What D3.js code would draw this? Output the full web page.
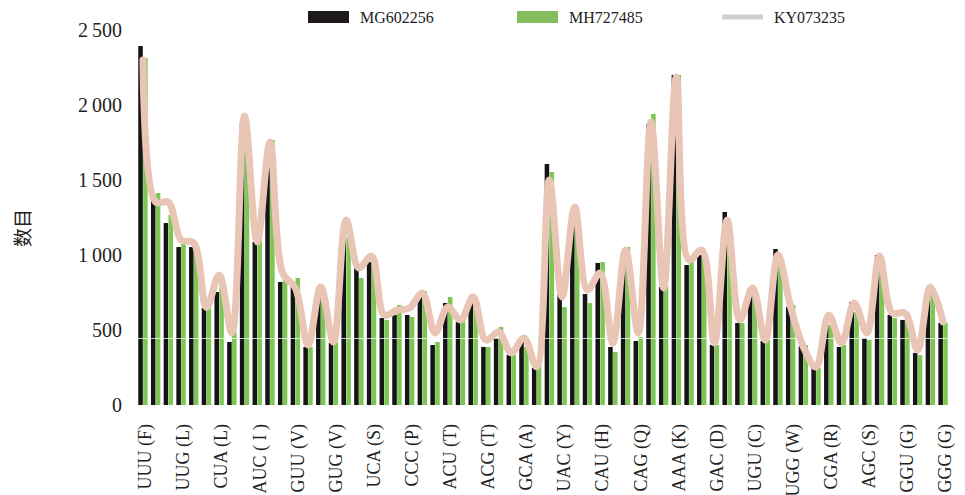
<!DOCTYPE html>
<html>
<head>
<meta charset="utf-8">
<script src="https://cdn.jsdelivr.net/npm/d3@7"></script>
<style>
  body { margin: 0; background: #fff; }
  svg { display: block; }
</style>
</head>
<body>
<div id="chart"></div>
<script>
// 64 codons, standard table order
var codons = ["UUU","UUC","UUA","UUG","CUU","CUC","CUA","CUG","AUU","AUC","AUA","AUG","GUU","GUC","GUA","GUG",
              "UCU","UCC","UCA","UCG","CCU","CCC","CCA","CCG","ACU","ACC","ACA","ACG","GCU","GCC","GCA","GCG",
              "UAU","UAC","UAA","UAG","CAU","CAC","CAA","CAG","AAU","AAC","AAA","AAG","GAU","GAC","GAA","GAG",
              "UGU","UGC","UGA","UGG","CGU","CGC","CGA","CGG","AGU","AGC","AGA","AGG","GGU","GGC","GGA","GGG"];

// every third codon gets a label
var tickLabels = ["UUU (F)","UUG (L)","CUA (L)","AUC ( I )","GUU (V)","GUG (V)","UCA (S)","CCC (P)","ACU (T)","ACG (T)","GCA (A)",
                  "UAC (Y)","CAU (H)","CAG (Q)","AAA (K)","GAC (D)","UGU (C)","UGG (W)","CGA (R)","AGC (S)","GGU (G)","GGG (G)"];

var seriesNames = ["MG602256", "MH727485", "KY073235"];

var mg602256 = [2393,1380,1213,1053,1053,647,753,420,1887,1087,1600,820,787,387,720,413,
                1147,913,953,580,600,600,747,400,680,553,680,387,447,333,420,247,
                1607,733,1267,740,947,387,1013,427,1873,787,2200,933,1000,400,1287,547,
                780,427,1040,653,393,247,533,387,687,447,1000,600,567,347,773,547];

var mh727485 = [2313,1413,1267,1080,1020,680,787,487,1833,1100,1767,853,847,387,687,420,
                1120,847,913,567,667,587,760,420,720,580,720,387,520,333,387,267,
                1553,653,1250,680,953,353,1053,453,1940,787,2200,987,1013,400,1213,547,
                767,433,980,667,400,247,533,400,620,433,967,580,613,333,733,547];

var ky073235 = [2300,1353,1353,1100,1080,650,867,480,1927,1087,1753,880,780,400,787,420,
                1233,913,993,600,633,647,747,480,653,567,720,433,487,347,447,253,
                1500,720,1320,767,880,413,1033,480,1887,780,2187,967,1033,413,1233,567,
                780,433,1000,653,387,253,600,413,680,480,993,613,613,367,787,553];

var yTicks = [0, 500, 1000, 1500, 2000, 2500];

var width = 965, height = 495;
var black = "#151515", green = "#7dc653", lineColor = "#e8c5b5";

var svg = d3.select("#chart").append("svg").attr("width", width).attr("height", height);

var x = d3.scaleBand().domain(codons).range([136.6, 949.4]).paddingInner(0.26).paddingOuter(0.13);
var xSub = d3.scaleBand().domain([0, 1]).range([0, x.bandwidth()]).paddingInner(0.06);
var y = d3.scaleLinear().domain([0, 2500]).range([405, 30]);

var fmt = function(v){ return v >= 1000 ? Math.floor(v/1000) + "\u2009" + d3.format("03d")(v % 1000) : String(v); };

// y tick labels (no axis line)
var yAxis = svg.append("g").attr("transform", "translate(122,0)")
    .call(d3.axisLeft(y).tickValues(yTicks).tickSize(0).tickPadding(0).tickFormat(fmt));
yAxis.select(".domain").remove();
yAxis.selectAll("text").attr("font-family", "Liberation Serif, Times New Roman, serif")
     .attr("font-size", 20).attr("fill", "#222");

// y title
svg.append("text")
   .attr("transform", "translate(30,228) rotate(-90)")
   .attr("text-anchor", "middle")
   .attr("font-family", "Noto Sans CJK SC, sans-serif")
   .attr("font-size", 19).attr("fill", "#222")
   .text("数目");

// bars
var rows = codons.map(function(c, i){ return {codon: c, vals: [mg602256[i], mh727485[i]]}; });
var groups = svg.append("g").selectAll("g").data(rows).enter().append("g")
    .attr("transform", function(d){ return "translate(" + x(d.codon) + ",0)"; });
groups.selectAll("rect").data(function(d){ return d.vals; }).enter().append("rect")
    .attr("x", function(d, j){ return xSub(j); })
    .attr("width", xSub.bandwidth())
    .attr("y", function(d){ return y(d); })
    .attr("height", function(d){ return y(0) - y(d); })
    .attr("fill", function(d, j){ return j === 0 ? black : green; });

// faint white seam across the bars
svg.append("line").attr("x1", 136).attr("x2", 950)
   .attr("y1", Math.round(y(447)) + 0.5).attr("y2", Math.round(y(447)) + 0.5)
   .attr("stroke", "#fff").attr("stroke-opacity", 0.75).attr("stroke-width", 1);

// KY073235 smooth line
var line = d3.line()
    .x(function(d, i){ return x(codons[i]) + x.bandwidth() / 2; })
    .y(function(d){ return y(d); })
    .curve(d3.curveCatmullRom.alpha(0.5));
svg.append("path").datum(ky073235).attr("d", line)
   .attr("fill", "none").attr("stroke", lineColor).attr("stroke-width", 7)
   .attr("stroke-linejoin", "round").attr("stroke-linecap", "round");

// x labels, every third codon
var tickCodons = codons.filter(function(c, i){ return i % 3 === 0; });
svg.append("g").selectAll("text").data(tickCodons).enter().append("text")
   .attr("transform", function(c){ return "translate(" + (x(c) + x.bandwidth() / 2 + 2) + ",424) rotate(-90)"; })
   .attr("text-anchor", "end")
   .attr("dy", "0.35em")
   .attr("font-family", "Liberation Serif, Times New Roman, serif")
   .attr("font-size", 18).attr("fill", "#222")
   .text(function(c, i){ return tickLabels[i]; });

// legend
var legend = [
  {name: seriesNames[0], x: 308, type: "rect", color: "#1e1a1b"},
  {name: seriesNames[1], x: 517, type: "rect", color: "#86bd5f"},
  {name: seriesNames[2], x: 722, type: "line", color: "#cfcfcf"}
];
var lg = svg.append("g").selectAll("g").data(legend).enter().append("g");
lg.filter(function(d){ return d.type === "rect"; }).append("rect")
  .attr("x", function(d){ return d.x; }).attr("y", 11).attr("width", 41).attr("height", 12)
  .attr("fill", function(d){ return d.color; });
lg.filter(function(d){ return d.type === "line"; }).append("line")
  .attr("x1", function(d){ return d.x; }).attr("x2", function(d){ return d.x + 41; })
  .attr("y1", 17).attr("y2", 17)
  .attr("stroke", function(d){ return d.color; }).attr("stroke-width", 5);
lg.append("text")
  .attr("x", function(d){ return d.x + 52; }).attr("y", 17).attr("dy", "0.35em")
  .attr("font-family", "Liberation Serif, Times New Roman, serif")
  .attr("font-size", 16).attr("fill", "#222")
  .text(function(d){ return d.name; });
</script>
</body>
</html>
